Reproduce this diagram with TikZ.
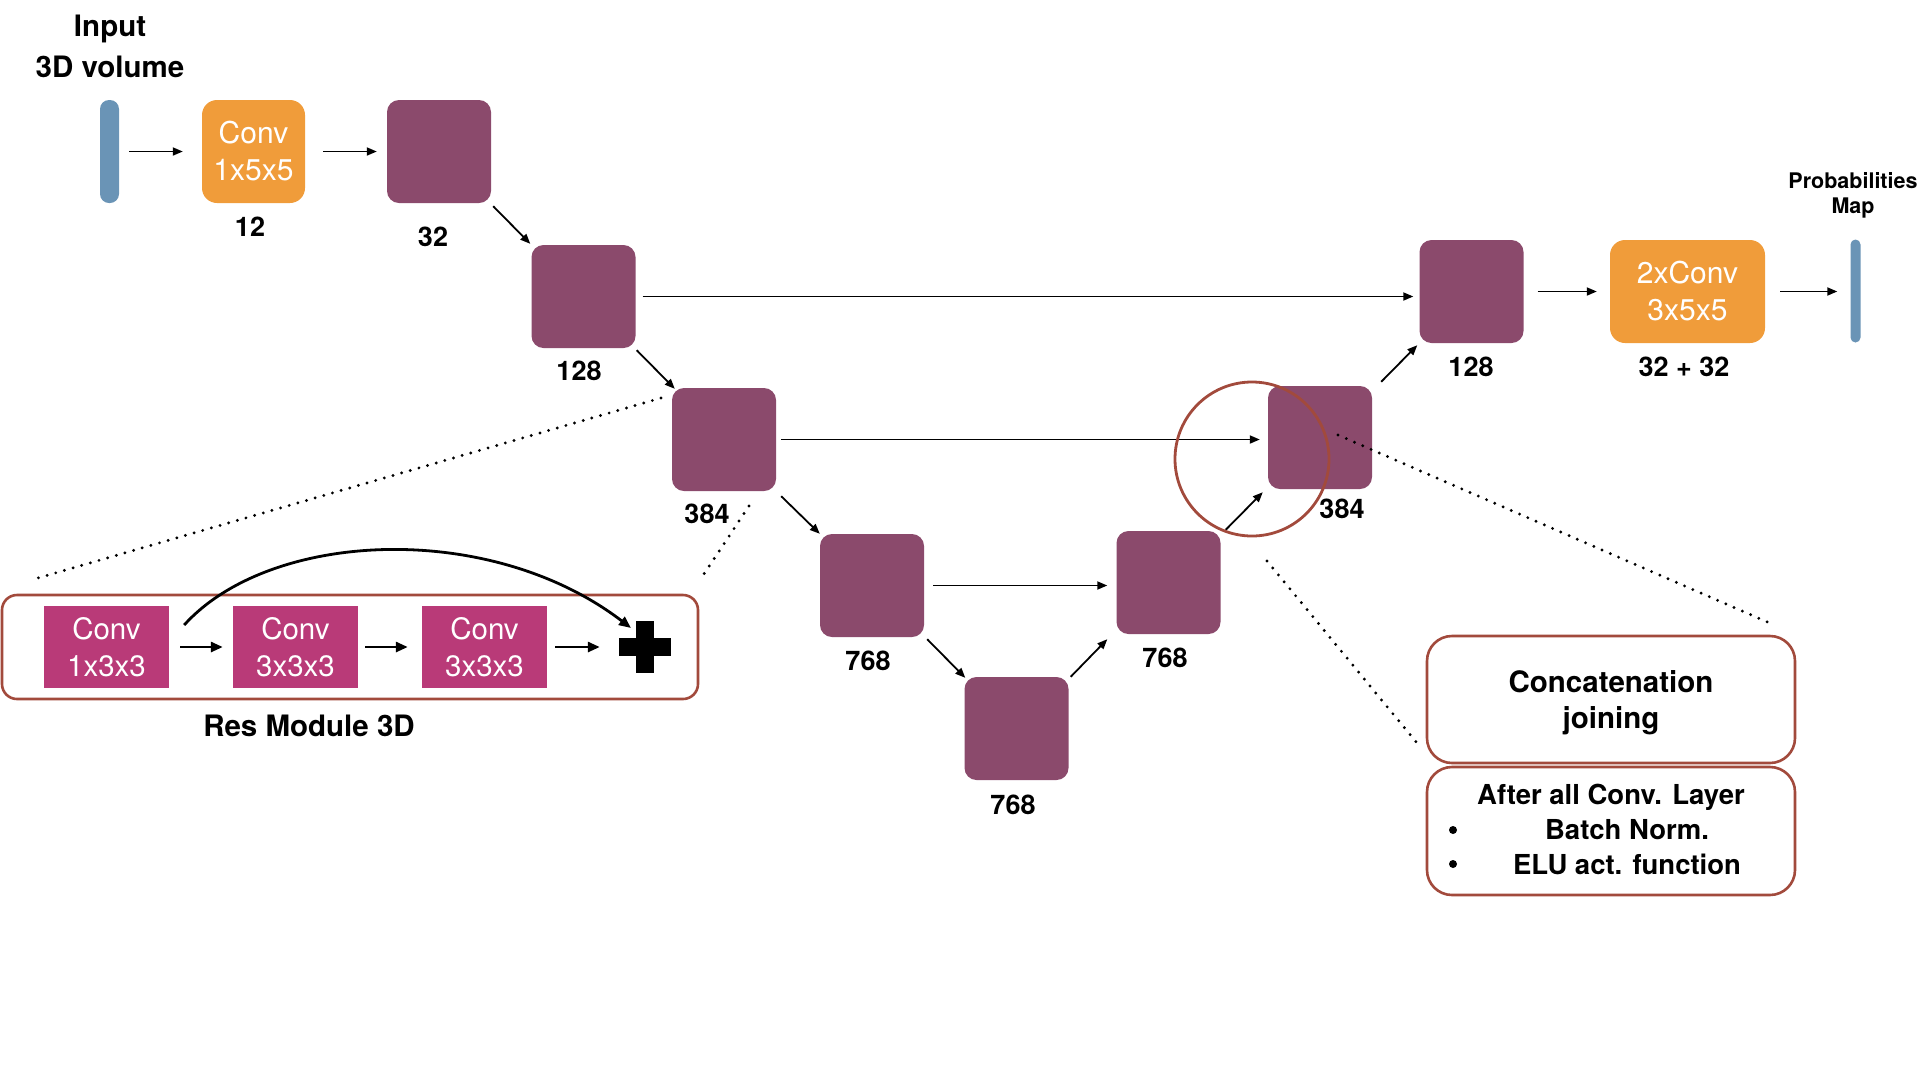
\documentclass[tikz,border=0pt]{standalone}
\usepackage{fontspec}
\setmainfont{TeX Gyre Heros}
\usetikzlibrary{arrows.meta,calc}
\definecolor{featc}{HTML}{8B4A6C}
\definecolor{orangec}{HTML}{F09C3A}
\definecolor{bluec}{HTML}{6A94B6}
\definecolor{magc}{HTML}{B93A78}
\definecolor{redc}{HTML}{A24A3C}
\tikzset{
  feat/.style={fill=featc, rounded corners=12pt, minimum width=104pt, minimum height=103pt, inner sep=0pt},
  convbox/.style={fill=orangec, rounded corners=15pt, minimum height=103pt, inner sep=0pt, text=white, align=center, font=\fontsize{30}{37}\selectfont},
  barbox/.style={fill=bluec, rounded corners=5pt, minimum height=103pt, inner sep=0pt},
  resconv/.style={fill=magc, minimum width=125pt, minimum height=82pt, inner sep=0pt, text=white, align=center, font=\fontsize{29.5}{37}\selectfont},
  lbl/.style={font=\bfseries\fontsize{27}{32}\selectfont, inner sep=0pt},
  ttl/.style={font=\bfseries\fontsize{29.5}{38}\selectfont, inner sep=0pt},
  infobox/.style={draw=redc, line width=2.6pt, rounded corners=25pt, minimum width=368pt, inner sep=0pt},
  arr/.style={-{Triangle[length=10pt,width=8pt]}, line width=1.8pt},
  thickarr/.style={-{Triangle[length=12pt,width=10pt]}, line width=2.8pt},
  dotline/.style={line width=3.2pt, line cap=round, dash pattern=on 0pt off 9pt},
}
\begin{document}
\begin{tikzpicture}[x=1pt,y=-1pt]
\useasboundingbox (0,0) rectangle (1920,1080);

% titles
\node[ttl] (tin1) at (110,29) {Input};
\node[ttl] (tin2) at (110,67) {3D volume};
\node[font=\bfseries\fontsize{21.5}{27}\selectfont, inner sep=0pt] (tpm1) at (1853,181) {Probabilities};
\node[font=\bfseries\fontsize{21.5}{27}\selectfont, inner sep=0pt] (tpm2) at (1853,208) {Map};

% main path
\node[barbox, minimum width=19pt, rounded corners=9pt] (bar1) at (109.5,151.5) {};
\node[convbox, minimum width=103pt] (or1) at (253.5,151.5) {Conv\\1x5x5};
\node[feat] (b1) at (439,151.5) {};
\node[feat] (b2) at (583.5,296.5) {};
\node[feat] (b3) at (724,439.5) {};
\node[feat] (b4) at (872,585.5) {};
\node[feat] (b5) at (1016.5,728.5) {};
\node[feat] (b6) at (1168.5,582.5) {};
\node[feat] (b7) at (1320,437.5) {};
\node[feat] (b8) at (1471.5,291.5) {};
\node[convbox, minimum width=155pt] (or2) at (1687.5,291.5) {2xConv\\3x5x5};
\node[barbox, minimum width=10pt] (bar2) at (1855.5,291) {};

% labels
\node[lbl] (l12) at (250,227) {12};
\node[lbl] (l1) at (433,237) {32};
\node[lbl] (l2) at (579,371) {128};
\node[lbl] (l3) at (707,514) {384};
\node[lbl] (l4) at (868,661) {768};
\node[lbl] (l5) at (1013,805) {768};
\node[lbl] (l6) at (1165,658) {768};
\node[lbl] (l7) at (1342,509) {384};
\node[lbl] (l8) at (1471,367) {128};
\node[lbl] (lor2) at (1684,367) {32 + 32};

% connectors
\draw[arr] ([xshift=10pt]bar1.east) -- ([xshift=-19pt]or1.west);
\draw[arr] ([xshift=18pt]or1.east) -- ([xshift=-10pt]b1.west);
\draw[arr] ([shift={(2,3)}]b1.south east) -- ([shift={(-1,-1)}]b2.north west);
\draw[arr] ([shift={(1,2)}]b2.south east) -- ([shift={(3,1)}]b3.north west);
\draw[arr] ([xshift=7pt]b2.east) -- ([xshift=-6pt]b8.west |- b2.east);
\draw[arr] ([shift={(5,5)}]b3.south east) -- ([shift={(0,0)}]b4.north west);
\draw[arr] ([xshift=5pt]b3.east) -- ([xshift=-8pt]b7.west |- b3.east);
\draw[arr] ([shift={(3,2)}]b4.south east) -- ([shift={(1,1)}]b5.north west);
\draw[arr] ([xshift=9pt]b4.east) -- ([xshift=-9pt]b6.west |- b4.east);
\draw[arr] ([shift={(2,0)}]b5.north east) -- ([shift={(-9,5)}]b6.south west);
\draw[arr] ([shift={(5,-1)}]b6.north east) -- ([shift={(-5,3)}]b7.south west);
\draw[arr] ([shift={(9,-4)}]b7.north east) -- ([shift={(-2,2)}]b8.south west);
\draw[arr] ([xshift=14pt]b8.east) -- ([xshift=-13pt]or2.west);
\draw[arr] ([xshift=15pt]or2.east) -- ([xshift=-13pt]bar2.west |- or2.east);

% concatenation circle
\node[draw=redc, line width=2.8pt, circle, minimum size=154pt, inner sep=0pt] (ring) at (1252,459) {};

% res module
\node[draw=redc, line width=2.6pt, rounded corners=15pt, minimum width=696pt, minimum height=104pt, inner sep=0pt] (resbox) at (350,647) {};
\node[resconv] (c1) at (106.5,647) {Conv\\1x3x3};
\node[resconv] (c2) at (295.5,647) {Conv\\3x3x3};
\node[resconv] (c3) at (484.5,647) {Conv\\3x3x3};
\node[minimum size=52pt, inner sep=0pt] (plus) at (645,647) {};
\fill (plus.center) ++(-9,-26) rectangle ++(18,52);
\fill (plus.center) ++(-26,-9) rectangle ++(52,18);
\draw[thickarr] ([xshift=11pt]c1.east) -- ([xshift=-10pt]c2.west);
\draw[thickarr] ([xshift=7pt]c2.east) -- ([xshift=-14pt]c3.west);
\draw[thickarr] ([xshift=8pt]c3.east) -- ([xshift=-19pt]plus.west);
\draw[thickarr] ([shift={(15,-22)}]c1.east) .. controls (270,530) and (490,520) .. ([shift={(-14,-19)}]plus.center);
\node[ttl] (resl) at (309,726) {Res Module 3D};

% dotted zoom lines
\coordinate (d1a) at (661,398); \coordinate (d1b) at (31,580);
\coordinate (d2a) at (749,506); \coordinate (d2b) at (700,580);
\coordinate (d3a) at (1338,435); \coordinate (d3b) at (1772,624);
\coordinate (d4a) at (1267,561); \coordinate (d4b) at (1417,743);
\draw[dotline] (d1a) -- (d1b);
\draw[dotline] (d2a) -- (d2b);
\draw[dotline] (d3a) -- (d3b);
\draw[dotline] (d4a) -- (d4b);

% info boxes
\node[infobox, minimum height=127pt] (concat) at (1611,699.5) {};
\node[ttl] (ct1) at (1611,682) {Concatenation};
\node[ttl] (ct2) at (1611,721) {joining};
\node[infobox, minimum height=128pt] (after) at (1611,831) {};
\node[font=\bfseries\fontsize{27.5}{33}\selectfont, inner sep=0pt] (at1) at (1611,797) {After all Conv. Layer};
\fill (1453,830) circle (4pt);
\fill (1453,864) circle (4pt);
\node[font=\bfseries\fontsize{27.5}{33}\selectfont, inner sep=0pt] (at2) at (1627,830) {Batch Norm.};
\node[font=\bfseries\fontsize{27.5}{33}\selectfont, inner sep=0pt] (at3) at (1627,864) {ELU act. function};
\end{tikzpicture}
\end{document}
